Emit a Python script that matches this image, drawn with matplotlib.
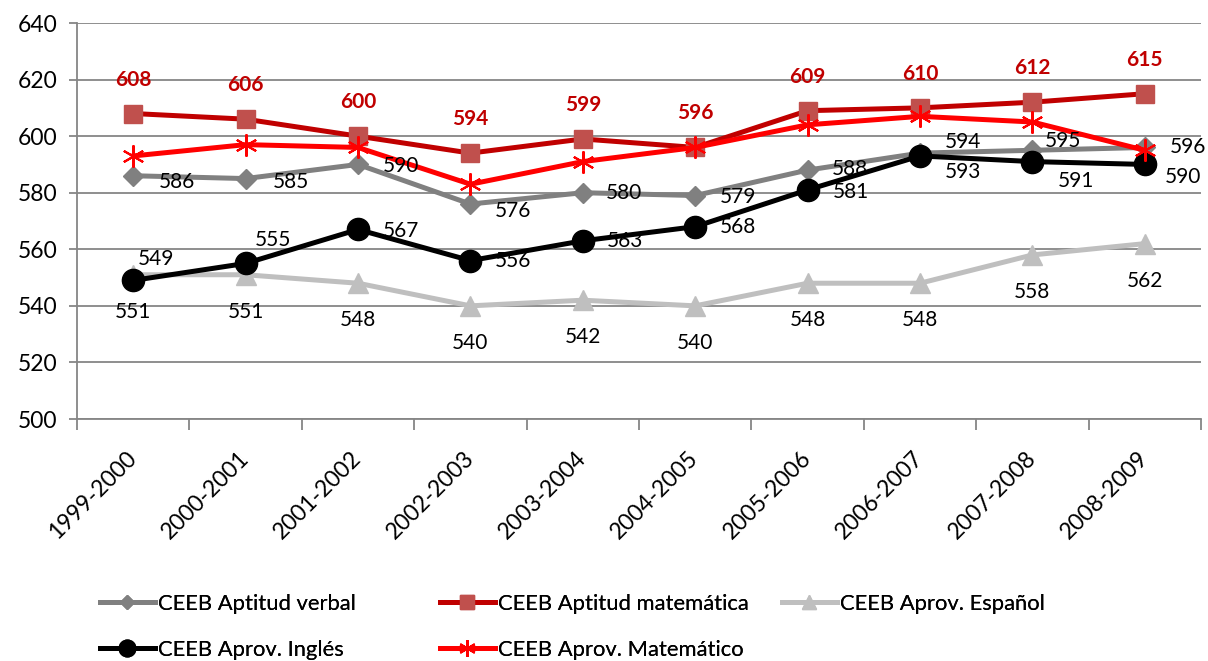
import matplotlib.pyplot as plt
import matplotlib.transforms as mtrans

# ===============================
# Datos
# ===============================
years = ["1999-2000", "2000-2001", "2001-2002", "2002-2003", "2003-2004",
         "2004-2005", "2005-2006", "2006-2007", "2007-2008", "2008-2009"]

aptitud_verbal = [586, 585, 590, 576, 580, 579, 588, 594, 595, 596]
aptitud_mate = [608, 606, 600, 594, 599, 596, 609, 610, 612, 615]
aprov_espanol = [551, 551, 548, 540, 542, 540, 548, 548, 558, 562]
aprov_ingles = [549, 555, 567, 556, 563, 568, 581, 593, 591, 590]
aprov_mate = [593, 597, 596, 583, 591, 596, 604, 607, 605, 595]

# posiciones de etiquetas (pixeles)
verbal_off = [(44, -6), (45, -3), (43, -2), (43, -7), (41, 0), (43, -1),
              (42, 1), (43, 11), (31, 9), (43, 0)]
ingles_off = [(23, 21), (27, 23), (43, -2), (43, 0), (42, 0), (43, 0),
              (43, -2), (43, -16), (44, -19), (38, -13)]

plt.rcParams['font.family'] = ['Lato', 'DejaVu Sans']
FS = 15

fig = plt.figure(figsize=(12.08, 6.61), dpi=100)
ax = fig.add_axes([77 / 1208, 1 - 419 / 661, 1124 / 1208, 396 / 661])

x = list(range(len(years)))
lw = 3.6

ax.plot(x, aptitud_verbal, color="#808080", lw=lw, marker="D", ms=10,
        mfc="#808080", mec="#808080", label="CEEB Aptitud verbal", zorder=3)
ax.plot(x, aptitud_mate, color="#C00000", lw=lw, marker="s", ms=13,
        mfc="#C0504D", mec="#C0504D", label="CEEB Aptitud matemática", zorder=3)
ax.plot(x, aprov_espanol, color="#BFBFBF", lw=lw, marker="^", ms=14,
        mfc="#BFBFBF", mec="#BFBFBF", label="CEEB Aprov. Español", zorder=3)
ax.plot(x, aprov_ingles, color="black", lw=lw, marker="o", ms=16,
        mfc="black", mec="black", label="CEEB Aprov. Inglés", zorder=3)
ax.plot(x, aprov_mate, color="#FF0000", lw=lw, marker=(6, 2, 0), ms=16,
        mec="#FF0000", mew=1.5, label="CEEB Aprov. Matemático", zorder=3)

# etiquetas de datos
for i in x:
    ax.annotate(str(aptitud_mate[i]), (i, aptitud_mate[i]), xytext=(0, 34),
                textcoords="offset pixels", ha="center", va="center",
                fontsize=FS, fontweight="bold", color="#C00000", zorder=5)
    ax.annotate(str(aprov_espanol[i]), (i, aprov_espanol[i]), xytext=(0, -37),
                textcoords="offset pixels", ha="center", va="center",
                fontsize=FS, color="black", zorder=5)
    ax.annotate(str(aptitud_verbal[i]), (i, aptitud_verbal[i]), xytext=verbal_off[i],
                textcoords="offset pixels", ha="center", va="center",
                fontsize=FS, color="black", zorder=5)
    ax.annotate(str(aprov_ingles[i]), (i, aprov_ingles[i]), xytext=ingles_off[i],
                textcoords="offset pixels", ha="center", va="center",
                fontsize=FS, color="black", zorder=5)

# ejes
ax.set_xlim(-0.5, len(years) - 0.5)
ax.set_ylim(500, 640)
ax.set_yticks(range(500, 641, 20))
ax.tick_params(axis="y", labelsize=16.5, length=6, color="#868686", width=1.3, pad=8)
ax.set_xticks([i + 0.5 for i in range(-1, len(years))], minor=False)
ax.set_xticklabels([])
ax.set_xticks(x, minor=True)
ax.set_xticklabels(years, minor=True, rotation=45, ha="right", va="center",
                   rotation_mode="anchor", fontsize=16.5)
shift = mtrans.ScaledTranslation(9 / 100, 0, fig.dpi_scale_trans)
for t in ax.get_xticklabels(minor=True):
    t.set_transform(t.get_transform() + shift)
ax.tick_params(axis="x", which="major", length=8, color="#868686", width=1.3,
               direction="out")
ax.tick_params(axis="x", which="minor", length=0, pad=26)
ax.grid(axis="y", color="#868686", lw=1.3)
ax.set_axisbelow(True)
for s in ["top", "right"]:
    ax.spines[s].set_visible(False)
for s in ["left", "bottom"]:
    ax.spines[s].set_color("#868686")
    ax.spines[s].set_linewidth(1.3)

# leyenda
handles, labels = ax.get_legend_handles_labels()
leg_pos = [(100, 604), (440, 604), (782, 604), (100, 650), (440, 650)]
for h, l, (px, py) in zip(handles, labels, leg_pos):
    lg = fig.legend([h], [l], loc="center left",
                    bbox_to_anchor=(px / 1208, 1 - py / 661),
                    frameon=False, fontsize=15.8, handlelength=2.5,
                    handletextpad=0.15, borderpad=0, borderaxespad=0,
                    markerscale=0.75)
    fig.add_artist(lg)

plt.savefig("out.png", dpi=100)
plt.close()
